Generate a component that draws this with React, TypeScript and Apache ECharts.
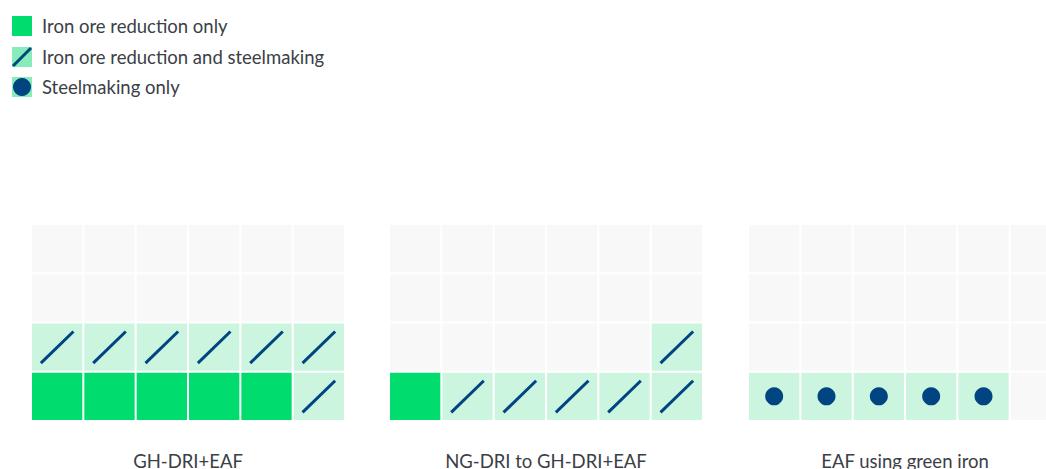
import React, { useEffect, useRef } from "react";
import * as echarts from "echarts";

// Cell codes: 0 = empty, 1 = iron ore reduction only, 2 = iron ore reduction and steelmaking, 3 = steelmaking only
const legendLabels = ["Iron ore reduction only", "Iron ore reduction and steelmaking", "Steelmaking only"];
const panelNames = ["GH-DRI+EAF", "NG-DRI to GH-DRI+EAF", "EAF using green iron"];
const columns = ["1", "2", "3", "4", "5", "6"];
const rows = ["1", "2", "3", "4"]; // bottom to top

// each panel: rows listed from bottom to top
const panelGH = [
  [1, 1, 1, 1, 1, 2],
  [2, 2, 2, 2, 2, 2],
  [0, 0, 0, 0, 0, 0],
  [0, 0, 0, 0, 0, 0],
];
const panelNGtoGH = [
  [1, 2, 2, 2, 2, 2],
  [0, 0, 0, 0, 0, 2],
  [0, 0, 0, 0, 0, 0],
  [0, 0, 0, 0, 0, 0],
];
const panelEAF = [
  [3, 3, 3, 3, 3, 0],
  [0, 0, 0, 0, 0, 0],
  [0, 0, 0, 0, 0, 0],
  [0, 0, 0, 0, 0, 0],
];
const panels = [panelGH, panelNGtoGH, panelEAF];

const GREEN = "#00dc6e";
const MINT = "#ccf5e0";
const GREY = "#f8f8f8";
const NAVY = "#004481";
const TEXT = "#3b4046";
const LEGEND_MINT = "#86ecb9";

export default function App() {
  const ref = useRef<HTMLDivElement>(null);
  useEffect(() => {
    if (!ref.current) return;
    const chart = echarts.init(ref.current, null, { renderer: "svg" });
    const lefts = [31, 389, 748];
    const grids = lefts.map((l) => ({
      left: l,
      top: 224,
      width: 314,
      height: 197,
      outerBoundsMode: "none",
      containLabel: false,
    }));
    const xAxes = panels.map((_, i) => ({
      type: "category",
      gridIndex: i,
      data: columns,
      axisLine: { show: false },
      axisTick: { show: false },
      axisLabel: { show: false },
      splitLine: { show: false },
      name: panelNames[i],
      nameLocation: "middle",
      nameGap: 30,
      nameTextStyle: { fontFamily: "Lato", fontSize: 18.5, color: TEXT },
    }));
    const yAxes = panels.map((_, i) => ({
      type: "category",
      gridIndex: i,
      data: rows,
      axisLine: { show: false },
      axisTick: { show: false },
      axisLabel: { show: false },
      splitLine: { show: false },
    }));
    const series = panels.map((p, i) => {
      const data: number[][] = [];
      p.forEach((row, r) => row.forEach((code, c) => data.push([c, r, code])));
      return {
        type: "custom",
        xAxisIndex: i,
        yAxisIndex: i,
        data,
        clip: false,
        renderItem: (params: any, api: any) => {
          const pt = api.coord([api.value(0), api.value(1)]);
          const sz = api.size([1, 1]);
          const code = api.value(2);
          const w = sz[0] - 2;
          const h = sz[1] - 2;
          const x = pt[0] - w / 2;
          const y = pt[1] - h / 2;
          const fill = code === 1 ? GREEN : code === 0 ? GREY : MINT;
          const children: any[] = [
            { type: "rect", shape: { x, y, width: w, height: h }, style: { fill } },
          ];
          if (code === 2) {
            children.push({
              type: "line",
              shape: { x1: pt[0] - 16.3, y1: pt[1] + 16, x2: pt[0] + 16.3, y2: pt[1] - 15.6 },
              style: { stroke: NAVY, lineWidth: 3 },
            });
          }
          if (code === 3) {
            children.push({
              type: "circle",
              shape: { cx: pt[0], cy: pt[1], r: 9 },
              style: { fill: NAVY },
            });
          }
          return { type: "group", children };
        },
      };
    });

    const legendY = [16, 47, 77];
    const legend: any[] = [];
    legendLabels.forEach((label, i) => {
      const y = legendY[i];
      legend.push({
        type: "rect",
        shape: { x: 12, y, width: 20, height: 20 },
        style: { fill: i === 0 ? GREEN : LEGEND_MINT },
      });
      if (i === 1) {
        legend.push({
          type: "line",
          shape: { x1: 13, y1: y + 19, x2: 31, y2: y + 1 },
          style: { stroke: NAVY, lineWidth: 3 },
        });
      }
      if (i === 2) {
        legend.push({
          type: "circle",
          shape: { cx: 22, cy: y + 10, r: 9 },
          style: { fill: NAVY },
        });
      }
      legend.push({
        type: "text",
        x: 42,
        y: y + 10,
        style: {
          text: label,
          fontFamily: "Lato",
          fontSize: 18.5,
          fill: TEXT,
          verticalAlign: "middle",
        },
      });
    });

    chart.setOption({
      animation: false,
      grid: grids,
      xAxis: xAxes,
      yAxis: yAxes,
      series,
      graphic: legend,
    });
    return () => chart.dispose();
  }, []);
  return (
    <div
      ref={ref}
      style={{ position: "fixed", left: 0, top: 0, width: 1046, height: 469, background: "#fff" }}
    />
  );
}
